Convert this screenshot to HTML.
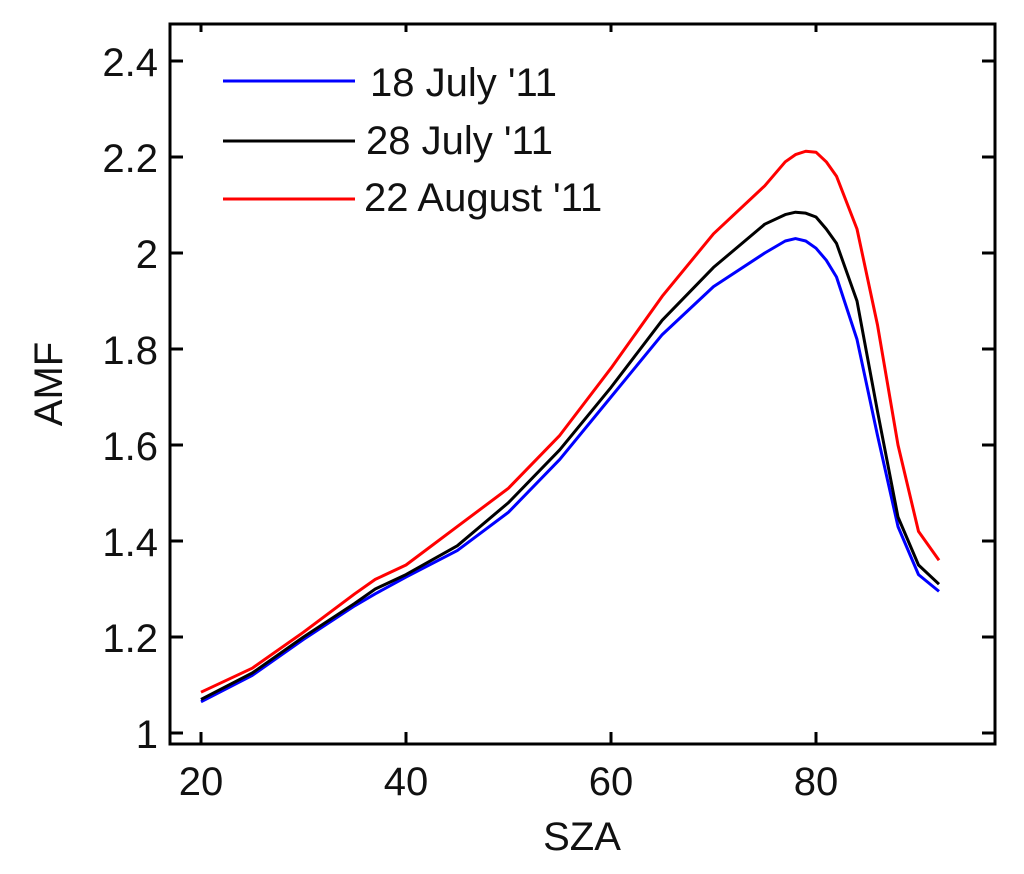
<!DOCTYPE html>
<html><head><meta charset="utf-8"><style>
body{margin:0;background:#fff}
svg text{font-family:"Liberation Sans",Arial,sans-serif;fill:#111}
</style></head><body>
<svg width="1024" height="869" id="c">
<rect x="170" y="24" width="825" height="720" fill="none" stroke="#000" stroke-width="3"/>
<text x="582" y="850" font-size="40" text-anchor="middle">SZA</text>
<text transform="translate(62,384) rotate(-90)" font-size="40" text-anchor="middle">AMF</text>
<g id="ax"></g><g id="lines"></g>
<g>
<line x1="223" y1="81" x2="355" y2="81" stroke="#00f" stroke-width="3"/>
<text x="370" y="96" font-size="40">18 July '11</text>
<line x1="223" y1="141" x2="355" y2="141" stroke="#000" stroke-width="3"/>
<text x="366" y="154" font-size="40">28 July '11</text>
<line x1="223" y1="199" x2="355" y2="199" stroke="#f00" stroke-width="3"/>
<text x="364" y="211" font-size="40">22 August '11</text>
</g>
</svg>
<script>
const sza=[20,25,30,35,37,40,45,50,55,60,65,70,75,77,78,79,80,81,82,84,86,88,90,92];
const blue=[1.065,1.12,1.195,1.265,1.29,1.325,1.38,1.46,1.57,1.70,1.83,1.93,2.00,2.025,2.03,2.025,2.01,1.985,1.95,1.82,1.62,1.43,1.33,1.295];
const black=[1.07,1.125,1.20,1.27,1.30,1.33,1.39,1.48,1.59,1.72,1.86,1.97,2.06,2.08,2.085,2.083,2.075,2.05,2.02,1.90,1.67,1.45,1.35,1.31];
const red=[1.085,1.135,1.21,1.29,1.32,1.35,1.43,1.51,1.62,1.76,1.91,2.04,2.14,2.19,2.205,2.212,2.21,2.19,2.16,2.05,1.85,1.60,1.42,1.36];
const xTicks=[20,40,60,80];
const yTicks=[1,1.2,1.4,1.6,1.8,2,2.2,2.4];
const yLabels=["1","1.2","1.4","1.6","1.8","2","2.2","2.4"];
const X=v=>201+(v-20)*10.25, Y=v=>733-(v-1)*480;
const NS="http://www.w3.org/2000/svg";
const ax=document.getElementById('ax'), lg=document.getElementById('lines');
function mk(tag,attrs,parent){const e=document.createElementNS(NS,tag);for(const k in attrs)e.setAttribute(k,attrs[k]);parent.appendChild(e);return e;}
xTicks.forEach(v=>{
 const t=mk('line',{x1:X(v),x2:X(v),y1:744,y2:732,stroke:'#000','stroke-width':3},ax);
 
 
 const t2=mk('line',{x1:X(v),x2:X(v),y1:24,y2:32,stroke:'#000','stroke-width':3},ax);
 
 
 const l=mk('text',{x:X(v),y:795,'font-size':40,'text-anchor':'middle'},ax);l.textContent=v;
 
 
});
yTicks.forEach((v,i)=>{
 const t=mk('line',{x1:170,x2:183,y1:Y(v),y2:Y(v),stroke:'#000','stroke-width':3},ax);
 
 
 const t2=mk('line',{x1:982,x2:995,y1:Y(v),y2:Y(v),stroke:'#000','stroke-width':3},ax);
 
 
 const l=mk('text',{x:158,y:Y(v)+15,'font-size':40,'text-anchor':'end'},ax);l.textContent=yLabels[i];
 
 
});
[[blue,'#00f','line-18-july'],[black,'#000','line-28-july'],[red,'#f00','line-22-august']].forEach(([d,c,n])=>{
 const p=mk('polyline',{points:d.map((v,i)=>X(sza[i])+','+Y(v)).join(' '),fill:'none',stroke:c,'stroke-width':3,'stroke-linejoin':'round'},lg);
 
 
});
</script>
</body></html>
